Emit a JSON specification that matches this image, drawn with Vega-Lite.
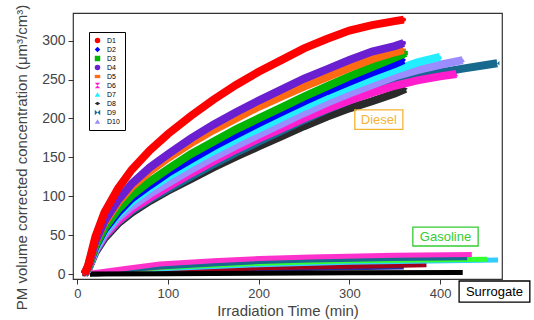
{
  "$schema": "https://vega.github.io/schema/vega-lite/v6.json",
  "autosize": "none",
  "width": 429,
  "height": 266,
  "padding": {"left": 73, "top": 13, "right": 32, "bottom": 41},
  "config": {
    "font": "Liberation Sans",
    "view": {"stroke": "#333", "strokeWidth": 1.2},
    "axis": {"grid": false, "domain": false, "tickColor": "#333", "tickSize": 5, "labelColor": "#444", "labelFontSize": 13, "titleColor": "#444", "titleFontSize": 15, "titleFontWeight": "normal"}
  },
  "datasets": {
    "diesel": [
      {"s":"D8","t":8,"v":0},{"s":"D8","t":12,"v":6},{"s":"D8","t":20,"v":28},{"s":"D8","t":30,"v":46},{"s":"D8","t":45,"v":65},{"s":"D8","t":60,"v":79},{"s":"D8","t":80,"v":94},{"s":"D8","t":100,"v":107},{"s":"D8","t":125,"v":122},{"s":"D8","t":150,"v":137},{"s":"D8","t":175,"v":151},{"s":"D8","t":200,"v":164},{"s":"D8","t":225,"v":177},{"s":"D8","t":250,"v":190},{"s":"D8","t":275,"v":202},{"s":"D8","t":300,"v":213},{"s":"D8","t":325,"v":222},{"s":"D8","t":350,"v":232},{"s":"D8","t":362,"v":238},
      {"s":"D9","t":8,"v":0},{"s":"D9","t":12,"v":6},{"s":"D9","t":20,"v":29},{"s":"D9","t":30,"v":48},{"s":"D9","t":45,"v":67},{"s":"D9","t":60,"v":81},{"s":"D9","t":80,"v":96},{"s":"D9","t":100,"v":109},{"s":"D9","t":125,"v":125},{"s":"D9","t":150,"v":141},{"s":"D9","t":175,"v":156},{"s":"D9","t":200,"v":170},{"s":"D9","t":225,"v":184},{"s":"D9","t":250,"v":198},{"s":"D9","t":275,"v":211},{"s":"D9","t":300,"v":223},{"s":"D9","t":325,"v":234},{"s":"D9","t":350,"v":245},{"s":"D9","t":375,"v":253},{"s":"D9","t":400,"v":259},{"s":"D9","t":425,"v":264},{"s":"D9","t":463,"v":271},
      {"s":"D6","t":8,"v":0},{"s":"D6","t":12,"v":6},{"s":"D6","t":20,"v":30},{"s":"D6","t":30,"v":49},{"s":"D6","t":45,"v":68},{"s":"D6","t":60,"v":83},{"s":"D6","t":80,"v":98},{"s":"D6","t":100,"v":112},{"s":"D6","t":125,"v":129},{"s":"D6","t":150,"v":145},{"s":"D6","t":175,"v":160},{"s":"D6","t":200,"v":174},{"s":"D6","t":225,"v":187},{"s":"D6","t":250,"v":200},{"s":"D6","t":275,"v":212},{"s":"D6","t":300,"v":223},{"s":"D6","t":325,"v":233},{"s":"D6","t":350,"v":242},{"s":"D6","t":375,"v":249},{"s":"D6","t":400,"v":254},{"s":"D6","t":418,"v":257},
      {"s":"D10","t":8,"v":0},{"s":"D10","t":12,"v":7},{"s":"D10","t":20,"v":31},{"s":"D10","t":30,"v":51},{"s":"D10","t":45,"v":72},{"s":"D10","t":60,"v":87},{"s":"D10","t":80,"v":103},{"s":"D10","t":100,"v":117},{"s":"D10","t":125,"v":134},{"s":"D10","t":150,"v":150},{"s":"D10","t":175,"v":165},{"s":"D10","t":200,"v":179},{"s":"D10","t":225,"v":193},{"s":"D10","t":250,"v":207},{"s":"D10","t":275,"v":220},{"s":"D10","t":300,"v":232},{"s":"D10","t":325,"v":243},{"s":"D10","t":350,"v":254},{"s":"D10","t":375,"v":262},{"s":"D10","t":400,"v":269},{"s":"D10","t":425,"v":275},
      {"s":"D7","t":8,"v":0},{"s":"D7","t":12,"v":7},{"s":"D7","t":20,"v":33},{"s":"D7","t":30,"v":55},{"s":"D7","t":45,"v":76},{"s":"D7","t":60,"v":93},{"s":"D7","t":80,"v":110},{"s":"D7","t":100,"v":125},{"s":"D7","t":125,"v":142},{"s":"D7","t":150,"v":158},{"s":"D7","t":175,"v":173},{"s":"D7","t":200,"v":187},{"s":"D7","t":225,"v":201},{"s":"D7","t":250,"v":215},{"s":"D7","t":275,"v":228},{"s":"D7","t":300,"v":240},{"s":"D7","t":325,"v":251},{"s":"D7","t":350,"v":262},{"s":"D7","t":375,"v":272},{"s":"D7","t":400,"v":279},
      {"s":"D2","t":8,"v":0},{"s":"D2","t":12,"v":8},{"s":"D2","t":20,"v":35},{"s":"D2","t":30,"v":57},{"s":"D2","t":45,"v":79},{"s":"D2","t":60,"v":97},{"s":"D2","t":80,"v":114},{"s":"D2","t":100,"v":130},{"s":"D2","t":125,"v":147},{"s":"D2","t":150,"v":164},{"s":"D2","t":175,"v":179},{"s":"D2","t":200,"v":194},{"s":"D2","t":225,"v":208},{"s":"D2","t":250,"v":222},{"s":"D2","t":275,"v":235},{"s":"D2","t":300,"v":247},{"s":"D2","t":325,"v":259},{"s":"D2","t":350,"v":270},{"s":"D2","t":360,"v":275},
      {"s":"D3","t":8,"v":0},{"s":"D3","t":12,"v":8},{"s":"D3","t":20,"v":36},{"s":"D3","t":30,"v":59},{"s":"D3","t":45,"v":83},{"s":"D3","t":60,"v":101},{"s":"D3","t":80,"v":119},{"s":"D3","t":100,"v":135},{"s":"D3","t":125,"v":154},{"s":"D3","t":150,"v":170},{"s":"D3","t":175,"v":186},{"s":"D3","t":200,"v":200},{"s":"D3","t":225,"v":214},{"s":"D3","t":250,"v":228},{"s":"D3","t":275,"v":241},{"s":"D3","t":300,"v":254},{"s":"D3","t":325,"v":266},{"s":"D3","t":350,"v":278},{"s":"D3","t":362,"v":284},
      {"s":"D5","t":8,"v":0},{"s":"D5","t":12,"v":10},{"s":"D5","t":20,"v":41},{"s":"D5","t":30,"v":66},{"s":"D5","t":45,"v":92},{"s":"D5","t":60,"v":112},{"s":"D5","t":80,"v":132},{"s":"D5","t":100,"v":149},{"s":"D5","t":125,"v":168},{"s":"D5","t":150,"v":185},{"s":"D5","t":175,"v":200},{"s":"D5","t":200,"v":215},{"s":"D5","t":225,"v":228},{"s":"D5","t":250,"v":241},{"s":"D5","t":275,"v":253},{"s":"D5","t":300,"v":265},{"s":"D5","t":325,"v":276},{"s":"D5","t":350,"v":285},{"s":"D5","t":360,"v":288},
      {"s":"D4","t":8,"v":0},{"s":"D4","t":12,"v":10},{"s":"D4","t":20,"v":42},{"s":"D4","t":30,"v":68},{"s":"D4","t":45,"v":95},{"s":"D4","t":60,"v":116},{"s":"D4","t":80,"v":137},{"s":"D4","t":100,"v":154},{"s":"D4","t":125,"v":174},{"s":"D4","t":150,"v":192},{"s":"D4","t":175,"v":208},{"s":"D4","t":200,"v":223},{"s":"D4","t":225,"v":237},{"s":"D4","t":250,"v":251},{"s":"D4","t":275,"v":263},{"s":"D4","t":300,"v":275},{"s":"D4","t":325,"v":286},{"s":"D4","t":350,"v":293},{"s":"D4","t":360,"v":297},
      {"s":"D1","t":8,"v":0},{"s":"D1","t":12,"v":11},{"s":"D1","t":20,"v":48},{"s":"D1","t":30,"v":79},{"s":"D1","t":45,"v":110},{"s":"D1","t":60,"v":134},{"s":"D1","t":80,"v":159},{"s":"D1","t":100,"v":180},{"s":"D1","t":125,"v":203},{"s":"D1","t":150,"v":224},{"s":"D1","t":175,"v":243},{"s":"D1","t":200,"v":260},{"s":"D1","t":225,"v":275},{"s":"D1","t":250,"v":290},{"s":"D1","t":275,"v":302},{"s":"D1","t":300,"v":313},{"s":"D1","t":325,"v":320},{"s":"D1","t":350,"v":325},{"s":"D1","t":360,"v":327}
    ],
    "gas": [
      {"s":"G6","t":14,"v":0},{"s":"G6","t":100,"v":3},{"s":"G6","t":200,"v":6},{"s":"G6","t":300,"v":8},{"s":"G6","t":360,"v":9},
      {"s":"G5","t":14,"v":0},{"s":"G5","t":100,"v":4},{"s":"G5","t":200,"v":8},{"s":"G5","t":300,"v":10},{"s":"G5","t":385,"v":12},
      {"s":"G4","t":14,"v":0},{"s":"G4","t":100,"v":7},{"s":"G4","t":200,"v":12},{"s":"G4","t":300,"v":15},{"s":"G4","t":464,"v":18},
      {"s":"G3","t":14,"v":0},{"s":"G3","t":91,"v":8},{"s":"G3","t":201,"v":14},{"s":"G3","t":300,"v":17},{"s":"G3","t":452,"v":19},
      {"s":"G7","t":14,"v":0},{"s":"G7","t":100,"v":10},{"s":"G7","t":200,"v":18},{"s":"G7","t":300,"v":21},{"s":"G7","t":420,"v":23},
      {"s":"G2","t":14,"v":0},{"s":"G2","t":55,"v":5},{"s":"G2","t":91,"v":9},{"s":"G2","t":150,"v":13},{"s":"G2","t":201,"v":16},{"s":"G2","t":257,"v":18},{"s":"G2","t":350,"v":20},{"s":"G2","t":430,"v":21},
      {"s":"G1","t":14,"v":1},{"s":"G1","t":55,"v":7.5},{"s":"G1","t":91,"v":13},{"s":"G1","t":150,"v":17},{"s":"G1","t":201,"v":20},{"s":"G1","t":257,"v":22},{"s":"G1","t":350,"v":24},{"s":"G1","t":435,"v":25},
      {"s":"S","t":14,"v":0},{"s":"S","t":100,"v":0.5},{"s":"S","t":200,"v":1},{"s":"S","t":300,"v":1.5},{"s":"S","t":425,"v":2}
    ]
  },
  "encoding": {
    "x": {"field": "t", "type": "quantitative", "title": "Irradiation Time (min)", "scale": {"domain": [-4.7, 468.3], "nice": false, "zero": false}, "axis": {"values": [0, 100, 200, 300, 400], "labelPadding": 3, "titlePadding": 3}},
    "y": {"field": "v", "type": "quantitative", "title": "PM volume corrected concentration (μm³/cm³)", "scale": {"domain": [-6.4, 335.5], "nice": false, "zero": false}, "axis": {"values": [0, 50, 100, 150, 200, 250, 300], "labelPadding": 3, "labelFontSize": 14, "titlePadding": 12, "titleY": 144}}
  },
  "layer": [
    {
      "data": {"name": "diesel"},
      "mark": {"type": "point", "filled": true, "size": 20, "opacity": 1},
      "encoding": {
        "color": {"field": "s", "type": "nominal", "title": null, "scale": {"domain": ["D1","D2","D3","D4","D5","D6","D7","D8","D9","D10"], "range": ["#ff0000","#0000ff","#00b400","#6a1fd1","#ff6a13","#ff1dce","#22eeff","#2a2a2a","#17698e","#9b8cff"]},
          "legend": {"orient": "none", "legendX": 16, "legendY": 19, "title": null, "strokeColor": "#000", "fillColor": "#fff", "padding": 5, "labelFontSize": 7, "labelColor": "#000", "symbolSize": 30, "rowPadding": 1, "labelOffset": 6, "symbolStrokeWidth": 0}},
        "shape": {"field": "s", "type": "nominal", "title": null, "scale": {"domain": ["D1","D2","D3","D4","D5","D6","D7","D8","D9","D10"], "range": ["circle","diamond","square","circle","M-1,-0.6L1,-0.6L1,0.6L-1,0.6Z","M-1,-1L1,-1L-1,1L1,1Z","triangle-up","M-1,0L0,-0.6L1,0L0,0.6Z","M-1,-1L1,1L1,-1L-1,1Z","triangle-up"]}}
      }
    },
    {
      "data": {"name": "gas"},
      "mark": {"type": "line", "strokeWidth": 5},
      "encoding": {
        "stroke": {"field": "s", "type": "nominal", "legend": null, "scale": {"domain": ["G6","G5","G4","G3","G7","G2","G1","S"], "range": ["#2a2aa0","#a0001a","#33ccff","#33ff33","#ff8a20","#17698e","#ff33cc","#000000"]}},
        "detail": {"field": "s"}
      }
    },
    {
      "data": {"name": "diesel"},
      "mark": {"type": "line", "strokeWidth": 8},
      "encoding": {
        "color": {"field": "s", "type": "nominal", "title": null},
        "detail": {"field": "s"}
      }
    },
    {
      "data": {"values": [{"t1": 306, "t2": 359, "v1": 186, "v2": 211}]},
      "mark": {"type": "rect", "fill": "#fff", "fillOpacity": 0, "stroke": "#f5b335", "strokeWidth": 1.3},
      "encoding": {"x": {"field": "t1", "type": "quantitative"}, "x2": {"field": "t2"}, "y": {"field": "v1", "type": "quantitative"}, "y2": {"field": "v2"}}
    },
    {
      "data": {"values": [{"t": 332.5, "v": 198.5, "label": "Diesel"}]},
      "mark": {"type": "text", "fontSize": 13, "color": "#f5b335", "baseline": "middle", "align": "center"},
      "encoding": {"text": {"field": "label"}}
    },
    {
      "data": {"values": [{"t1": 370, "t2": 442, "v1": 36, "v2": 60.4}]},
      "mark": {"type": "rect", "fill": "#fff", "fillOpacity": 0, "stroke": "#33cc33", "strokeWidth": 1.3},
      "encoding": {"x": {"field": "t1", "type": "quantitative"}, "x2": {"field": "t2"}, "y": {"field": "v1", "type": "quantitative"}, "y2": {"field": "v2"}}
    },
    {
      "data": {"values": [{"t": 406, "v": 48.2, "label": "Gasoline"}]},
      "mark": {"type": "text", "fontSize": 13, "color": "#33cc33", "baseline": "middle", "align": "center"},
      "encoding": {"text": {"field": "label"}}
    },
    {
      "data": {"values": [{"t1": 421, "t2": 499, "v1": -9, "v2": -36}]},
      "mark": {"type": "rect", "fill": "#fff", "stroke": "#000", "strokeWidth": 1.3},
      "encoding": {"x": {"field": "t1", "type": "quantitative"}, "x2": {"field": "t2"}, "y": {"field": "v1", "type": "quantitative"}, "y2": {"field": "v2"}}
    },
    {
      "data": {"values": [{"t": 460, "v": -22.5, "label": "Surrogate"}]},
      "mark": {"type": "text", "fontSize": 13, "color": "#000", "baseline": "middle", "align": "center"},
      "encoding": {"text": {"field": "label"}}
    }
  ]
}
